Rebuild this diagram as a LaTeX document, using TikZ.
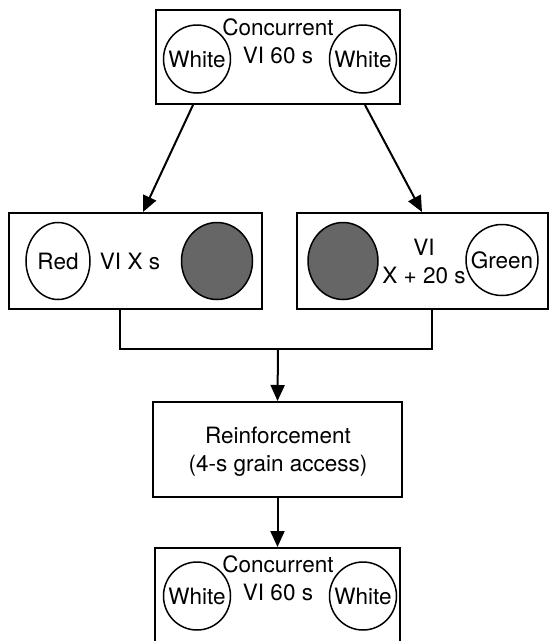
\documentclass[tikz,border=0pt]{standalone}
\usepackage{fontspec}
\setmainfont{TeX Gyre Heros}
\usetikzlibrary{arrows.meta,shapes.geometric}
\begin{document}
\begin{tikzpicture}[x=1pt,y=-1pt,
    box/.style={draw,line width=2pt,inner sep=0pt},
    lamp/.style={draw,ellipse,line width=1.5pt,inner sep=0pt},
    dark/.style={lamp,fill=black!60},
    lbl/.style={align=center,inner sep=0pt,font=\fontsize{22.5}{28}\selectfont},
    link/.style={line width=2pt},
    arr/.style={link,-{Triangle[length=16pt,width=14pt]}}]
    \useasboundingbox (0,0) rectangle (549,641);
    \node[box,minimum width=244pt,minimum height=94pt] (top) at (278,57) {};
    \node[lbl] (toptxt) at (278,41) {Concurrent\\VI 60 s};
    \node[lamp,minimum width=67pt,minimum height=68pt] (topl) at (197,59) {};
    \node[lamp,minimum width=67pt,minimum height=68pt] (topr) at (363,59) {};
    \node[lbl] (topltxt) at (topl) {White};
    \node[lbl] (toprtxt) at (topr) {White};
    \node[box,minimum width=253pt,minimum height=96pt] (lbox) at (135.5,261) {};
    \node[lamp,minimum width=64pt,minimum height=77pt] (red) at (58,261) {};
    \node[lbl] (redtxt) at (red) {Red};
    \node[lbl] (ltxt) at (130,261) {VI X s};
    \node[dark,minimum width=71pt,minimum height=77pt] (ldark) at (217,261) {};
    \node[box,minimum width=251pt,minimum height=96pt] (rbox) at (422,261) {};
    \node[dark,minimum width=70pt,minimum height=77pt] (rdark) at (343,261) {};
    \node[lbl] (rtxt) at (424,261) {VI\\X + 20 s};
    \node[lamp,minimum width=72pt,minimum height=71pt] (green) at (502,260) {};
    \node[lbl] (greentxt) at (green) {Green};
    \node[box,minimum width=249pt,minimum height=95pt] (reinf) at (277.5,449.5) {};
    \node[lbl] (reinftxt) at (278,452) {Reinforcement\\(4-s grain access)};
    \node[box,minimum width=245pt,minimum height=96pt] (bot) at (277.5,596) {};
    \node[lbl] (bottxt) at (278,578) {Concurrent\\VI 60 s};
    \node[lamp,minimum width=67pt,minimum height=68pt] (botl) at (197,596) {};
    \node[lamp,minimum width=67pt,minimum height=68pt] (botr) at (363,596) {};
    \node[lbl] (botltxt) at (botl) {White};
    \node[lbl] (botrtxt) at (botr) {White};
    \coordinate (merge) at (278,349);
    \draw[arr] ([xshift=-85pt]top.south) -- ([xshift=7.5pt]lbox.north);
    \draw[arr] ([xshift=87pt]top.south) -- (rbox.north);
    \draw[link] ([xshift=-15.5pt]lbox.south) |- (merge) -| ([xshift=10pt]rbox.south);
    \draw[arr] (merge) -- (reinf.north);
    \draw[arr] (reinf.south) -- (bot.north);
\end{tikzpicture}
\end{document}
